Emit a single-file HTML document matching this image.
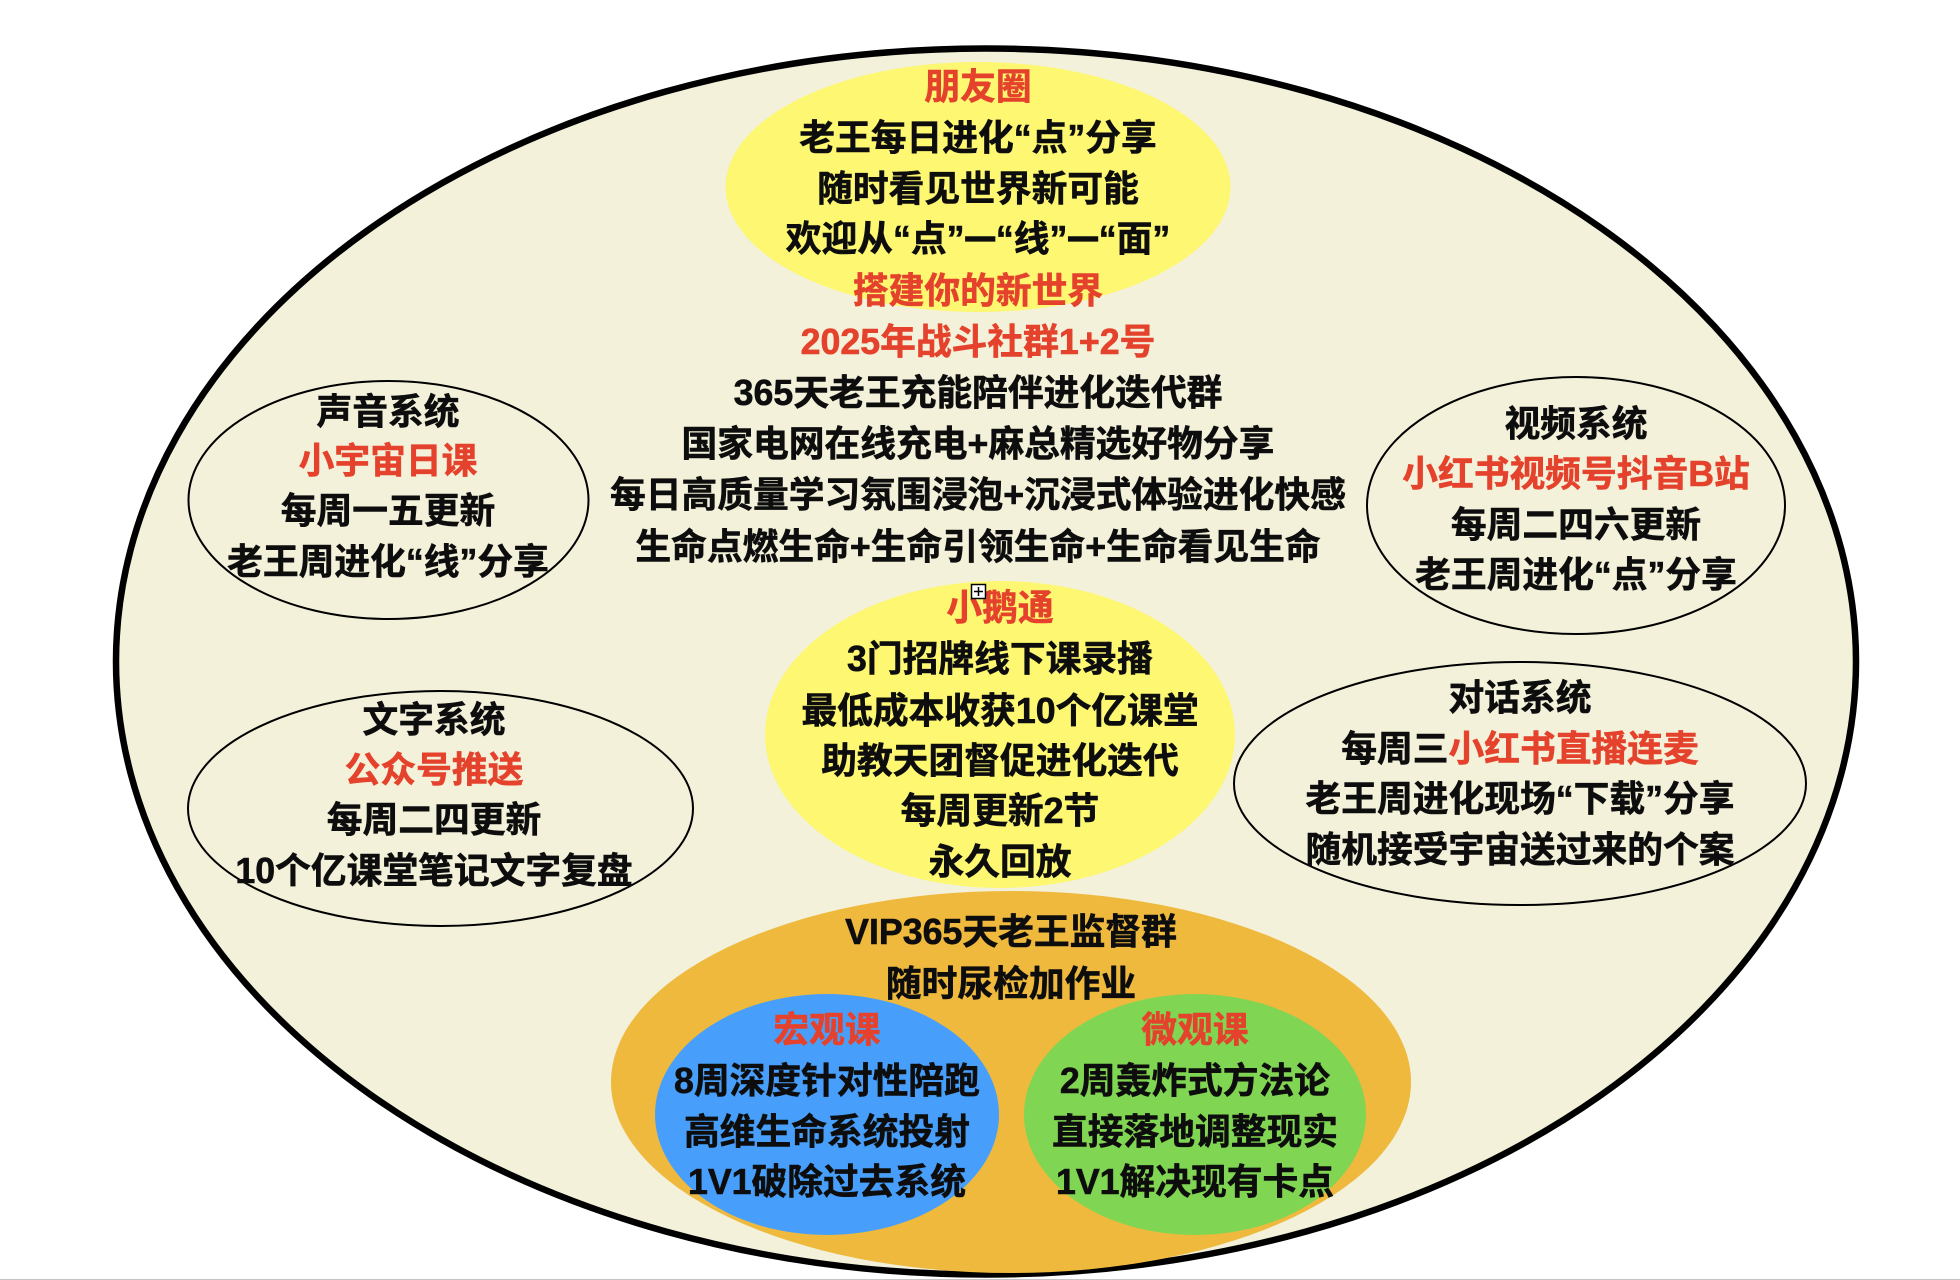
<!DOCTYPE html>
<html><head><meta charset="utf-8">
<style>
html,body{margin:0;padding:0;background:#fff;width:1960px;height:1280px;overflow:hidden}
svg{display:block}
text{font-family:"Liberation Sans","Noto Sans CJK SC",sans-serif;font-weight:700;font-size:35.75px;text-anchor:middle;fill:#111;stroke:#111;stroke-width:.6px}
.r,tspan.r{fill:#e5432d;stroke:#e5432d}
tspan.d{font-size:31.4px;stroke-width:1.2px}
</style></head><body>
<svg width="1960" height="1280" viewBox="0 0 1960 1280" xmlns="http://www.w3.org/2000/svg">
<defs><filter id="b" filterUnits="userSpaceOnUse" x="0" y="0" width="1960" height="1280"><feGaussianBlur stdDeviation="0.35"/></filter></defs>
<rect width="1960" height="1280" fill="#fff"/>
<rect y="1279" width="1960" height="1" fill="#c4c4c4"/>
<g filter="url(#b)">
<ellipse cx="986" cy="661.5" rx="870" ry="613" fill="#f3f1da" stroke="#000" stroke-width="6.5"/>
<ellipse cx="978" cy="187" rx="252.500" ry="125" fill="#fdf771"/>
<ellipse cx="1000" cy="734.5" rx="235" ry="153.5" fill="#fdf771"/>
<ellipse cx="1011" cy="1082" rx="400" ry="191" fill="#eeb93e"/>
<ellipse cx="827" cy="1114.5" rx="172" ry="120.5" fill="#479ffb"/>
<ellipse cx="1195" cy="1114.5" rx="171" ry="120.5" fill="#80d552"/>
<g fill="none" stroke="#000" stroke-width="2">
<ellipse cx="388.500" cy="500" rx="200" ry="119"/>
<ellipse cx="1576" cy="505.500" rx="209" ry="128.500"/>
<ellipse cx="440.500" cy="808.500" rx="252.500" ry="117.500"/>
<ellipse cx="1520" cy="783.500" rx="286" ry="121.500"/>
</g>

<text x="978" y="99" class="r">朋友圈</text>
<text x="978" y="150">老王每日进化“点”分享</text>
<text x="978" y="201">随时看见世界新可能</text>
<text x="978" y="251">欢迎从“点”<tspan class="d">一</tspan>“线”<tspan class="d">一</tspan>“面”</text>
<text x="978" y="303" class="r">搭建你的新世界</text>
<text x="978" y="354" class="r">2025年战斗社群1+2号</text>
<text x="978" y="405">365天老王充能陪伴进化迭代群</text>
<text x="978" y="456">国家电网在线充电+麻总精选好物分享</text>
<text x="978" y="507">每日高质量学习氛围浸泡+沉浸式体验进化快感</text>
<text x="978" y="559">生命点燃生命+生命引领生命+生命看见生命</text>

<text x="388" y="424">声音系统</text>
<text x="388" y="473" class="r">小宇宙日课</text>
<text x="388" y="523">每周一五更新</text>
<text x="388" y="574">老王周进化“线”分享</text>

<text x="1576" y="436">视频系统</text>
<text x="1576" y="486" class="r">小红书视频号抖音B站</text>
<text x="1576" y="537">每周二四六更新</text>
<text x="1576" y="587">老王周进化“点”分享</text>

<text x="434" y="732">文字系统</text>
<text x="434" y="782" class="r">公众号推送</text>
<text x="434" y="832">每周二四更新</text>
<text x="434" y="883">10个亿课堂笔记文字复盘</text>

<text x="1520" y="710">对话系统</text>
<text x="1520" y="761">每周三<tspan class="r">小红书直播连麦</tspan></text>
<text x="1520" y="811">老王周进化现场“下载”分享</text>
<text x="1520" y="862">随机接受宇宙送过来的个案</text>

<text x="1000" y="620" class="r">小鹅通</text>
<text x="1000" y="671">3门招牌线下课录播</text>
<text x="1000" y="723">最低成本收获10个亿课堂</text>
<text x="1000" y="773">助教天团督促进化迭代</text>
<text x="1000" y="823">每周更新2节</text>
<text x="1000" y="874">永久回放</text>

<text x="1011" y="944">VIP365天老王监督群</text>
<text x="1011" y="996">随时尿检加作业</text>

<text x="827" y="1042" class="r">宏观课</text>
<text x="827" y="1093">8周深度针对性陪跑</text>
<text x="827" y="1144">高维生命系统投射</text>
<text x="827" y="1194">1V1破除过去系统</text>

<text x="1195" y="1042" class="r">微观课</text>
<text x="1195" y="1093">2周轰炸式方法论</text>
<text x="1195" y="1144">直接落地调整现实</text>
<text x="1195" y="1194">1V1解决现有卡点</text>
</g>
<rect x="971.500" y="584.500" width="14" height="14" fill="#fff" stroke="#000" stroke-width="1.500"/>
<path d="M974 591.500H983M978.500 587V596" stroke="#000" stroke-width="1.500" fill="none"/>
</svg>
</body></html>
